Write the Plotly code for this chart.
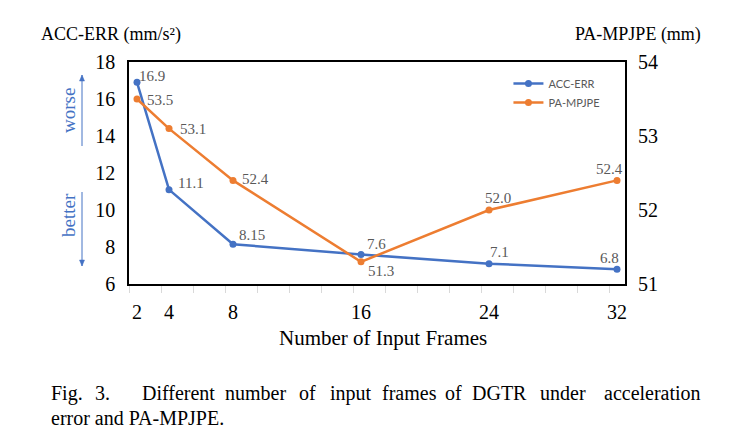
import plotly.graph_objects as go

frames = [2, 4, 8, 16, 24, 32]
acc_err = [16.9, 11.1, 8.15, 7.6, 7.1, 6.8]
pa_mpjpe = [53.5, 53.1, 52.4, 51.3, 52.0, 52.4]
acc_labels = ['16.9', '11.1', '8.15', '7.6', '7.1', '6.8']
pa_labels = ['53.5', '53.1', '52.4', '51.3', '52.0', '52.4']
acc_ticks = [6, 8, 10, 12, 14, 16, 18]
pa_ticks = [51, 52, 53, 54]

caption_words = ['Fig.', '3.', 'Different', 'number', 'of', 'input',
                 'frames', 'of', 'DGTR', 'under', 'acceleration']
caption_x = [49, 93, 140, 223, 297, 328, 380, 443, 470, 538, 602]
caption_line2 = 'error and PA-MPJPE.'

blue = '#4472C4'
orange = '#ED7D31'
gray = '#595959'
serif = 'Liberation Serif'

# plot area in pixels
L, R, T, B = 129, 625, 62, 284
W, H = 729, 443


def px(x):
    return (x - L) / (R - L)


def py(y):
    return (B - y) / (B - T)


fig = go.Figure()

fig.add_trace(go.Scatter(x=frames, y=acc_err, name='ACC-ERR', mode='lines+markers',
                         line=dict(color=blue, width=2.5), marker=dict(size=7, color=blue)))
fig.add_trace(go.Scatter(x=frames, y=pa_mpjpe, name='PA-MPJPE', mode='lines+markers',
                         line=dict(color=orange, width=2.5), marker=dict(size=7, color=orange),
                         yaxis='y2'))

fig.update_layout(width=W, height=H, autosize=False,
                  margin=dict(l=L, r=W - R, t=T, b=H - B),
                  plot_bgcolor='white', paper_bgcolor='white',
                  font=dict(family=serif, color='black'),
                  legend=dict(x=0.765, y=0.968, xanchor='left', yanchor='top',
                              bgcolor='rgba(0,0,0,0)',
                              font=dict(family='Lato', size=11, color=gray)))

fig.update_xaxes(range=[1.5, 32.5], tickvals=frames, ticks='outside', ticklen=9,
                 tickcolor='rgba(0,0,0,0)', tickfont=dict(size=20, family=serif, color='black'),
                 showline=True, linecolor='black', linewidth=1.5, mirror=True,
                 showgrid=False, zeroline=False,
                 minor=dict(tickmode='linear', tick0=1.5, dtick=2, ticks='outside',
                            ticklen=7, tickcolor='#d9d9d9', tickwidth=1, showgrid=False))

fig.update_layout(
    yaxis=dict(range=[6, 18], tickvals=acc_ticks, ticks='outside', ticklen=8,
               tickcolor='rgba(0,0,0,0)', tickfont=dict(size=20, family=serif, color='black'),
               showline=True, linecolor='black', linewidth=1.5, mirror=True,
               showgrid=False, zeroline=False),
    yaxis2=dict(range=[51, 54], tickvals=pa_ticks, ticks='outside', ticklen=8,
                tickcolor='rgba(0,0,0,0)', tickfont=dict(size=20, family=serif, color='black'),
                overlaying='y', side='right', showline=False, showgrid=False, zeroline=False))

ann = []

# data labels: (xanchor, xshift, yshift) per point
acc_pos = [('left', 0, 6), ('left', 7, 7), ('left', 4, 9), ('left', 4, 10),
           ('center', 10, 12), ('center', -8, 11)]
pa_pos = [('left', 8, -1), ('left', 9, 0), ('left', 7, 1), ('left', 5, -9),
          ('center', 9, 12), ('center', -8, 11)]
for xs, ys, labels, pos, yref in [(frames, acc_err, acc_labels, acc_pos, 'y'),
                                  (frames, pa_mpjpe, pa_labels, pa_pos, 'y2')]:
    for x, y, t, (xa, dx, dy) in zip(xs, ys, labels, pos):
        ann.append(dict(text=t, x=x, y=y, xref='x', yref=yref, xanchor=xa, yanchor='middle',
                        xshift=dx, yshift=dy, showarrow=False,
                        font=dict(size=15, family=serif, color=gray)))

paper_ann = []
# axis titles
paper_ann.append(dict(text='ACC-ERR (mm/s²)', x=px(39), y=py(35), xanchor='left', yanchor='middle',
                      font=dict(size=18, family=serif, color='black')))
paper_ann.append(dict(text='PA-MPJPE (mm)', x=px(703), y=py(35), xanchor='right', yanchor='middle',
                      font=dict(size=18, family=serif, color='black')))
paper_ann.append(dict(text='Number of Input Frames', x=px(383), y=py(338), xanchor='center',
                      yanchor='middle', font=dict(size=21, family=serif, color='black')))

# worse / better labels
paper_ann.append(dict(text='worse', x=px(68), y=py(111), textangle=-90, xanchor='center',
                      yanchor='middle', font=dict(size=19, family=serif, color=blue)))
paper_ann.append(dict(text='better', x=px(68), y=py(215), textangle=-90, xanchor='center',
                      yanchor='middle', font=dict(size=19, family=serif, color=blue)))

# caption (justified first line)
for w, x in zip(caption_words, caption_x):
    paper_ann.append(dict(text=w, x=px(x), y=py(393), xanchor='left', yanchor='middle',
                          font=dict(size=20, family=serif, color='black')))
paper_ann.append(dict(text=caption_line2, x=px(49), y=py(418), xanchor='left', yanchor='middle',
                      font=dict(size=20, family=serif, color='black')))

for a in paper_ann:
    a['showarrow'] = False
    a['xref'] = 'paper'
    a['yref'] = 'paper'

fig.update_layout(annotations=ann + paper_ann)

# arrows next to worse / better
shapes = []
for y0, y1 in [(146, 75), (192, 266)]:
    shapes.append(dict(type='line', xref='paper', yref='paper', x0=px(82), x1=px(82),
                       y0=py(y0), y1=py(y1), line=dict(color=blue, width=1)))
    d = 6 if y1 < y0 else -6
    path = 'M {} {} L {} {} L {} {} Z'.format(px(82), py(y1), px(79.5), py(y1 + d),
                                              px(84.5), py(y1 + d))
    shapes.append(dict(type='path', xref='paper', yref='paper', path=path,
                       fillcolor=blue, line=dict(color=blue, width=0.5)))
fig.update_layout(shapes=shapes)

fig.write_html('out.html', config={'displayModeBar': False},
               post_script="document.body.style.margin='0px';")
